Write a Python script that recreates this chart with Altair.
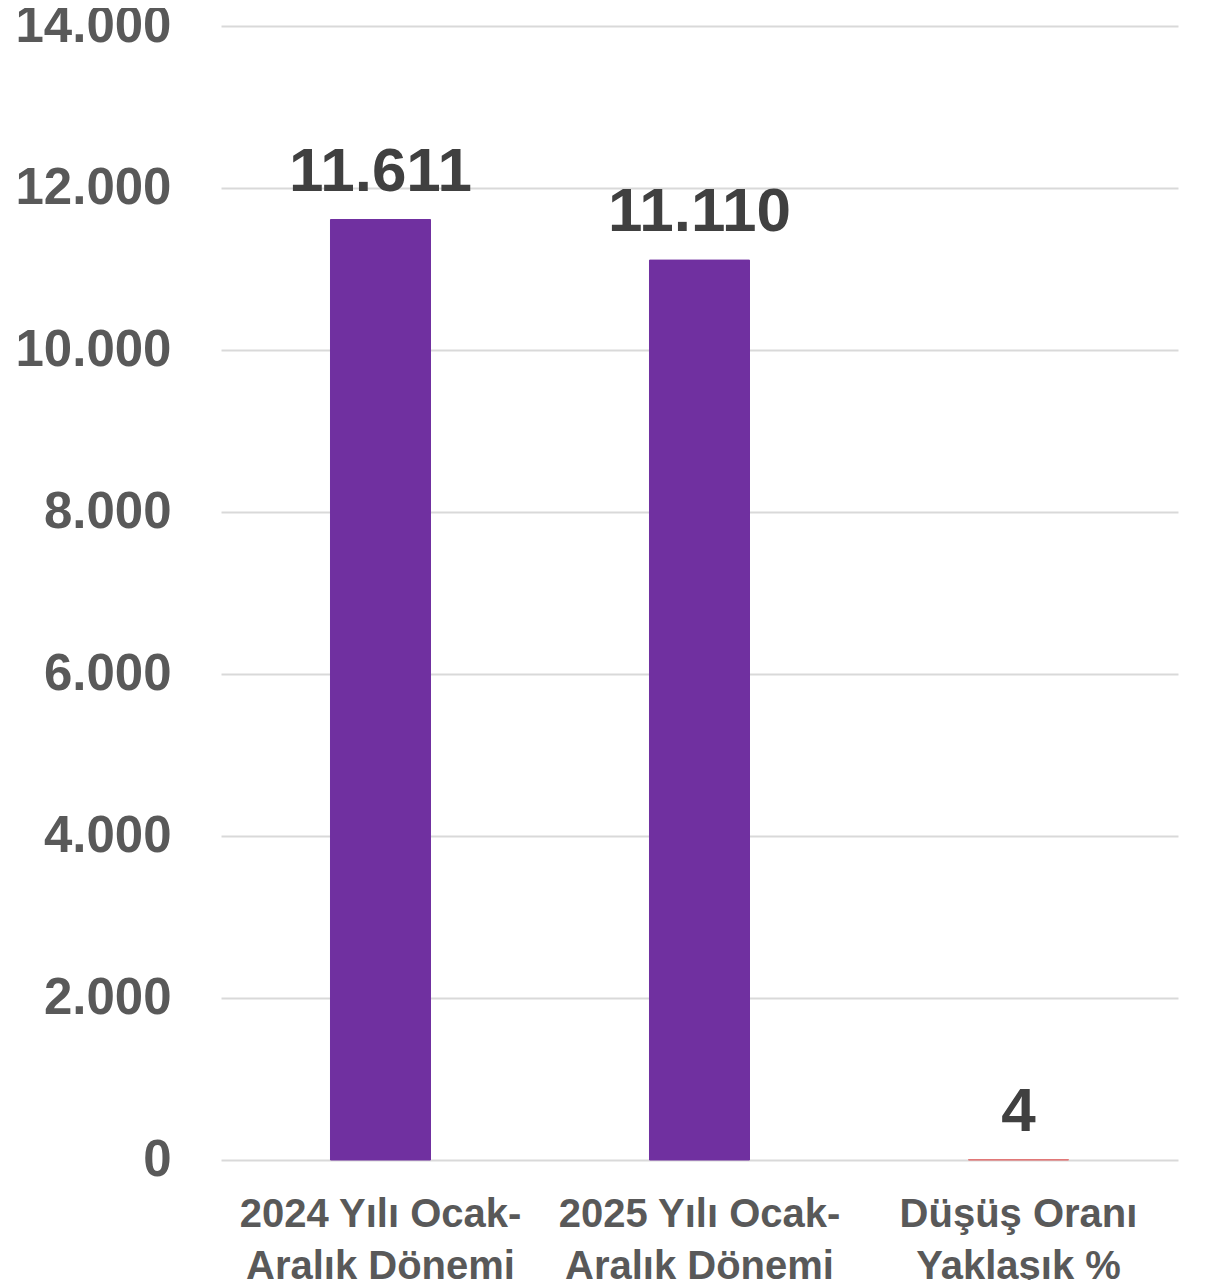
import altair as alt
import pandas as pd

categories = ["2024 Yılı Ocak-\nAralık Dönemi", "2025 Yılı Ocak-\nAralık Dönemi", "Düşüş Oranı\nYaklaşık %"]
values = [11611, 11110, 4]
colors = ["#7030A0", "#7030A0", "#E07070"]
y_ticks = [0, 2000, 4000, 6000, 8000, 10000, 12000, 14000]

df = pd.DataFrame({"cat": categories, "val": values, "color": colors})

FONT = "Liberation Sans"

x_axis = alt.Axis(
    title=None,
    labelAngle=0,
    ticks=False,
    domain=False,
    grid=False,
    labelFont=FONT,
    labelFontSize=40,
    labelFontWeight="bold",
    labelColor="#595959",
    labelPadding=34,
    labelLineHeight=52,
    labelBaseline="top",
    labelLimit=0,
    labelExpr="split(datum.label, '\\n')",
)
x_scale = alt.Scale(paddingInner=0.6865, paddingOuter=0.34325)

y_axis = alt.Axis(
    title=None,
    values=y_ticks,
    ticks=False,
    domain=False,
    grid=True,
    gridColor="#D9D9D9",
    gridWidth=2,
    labelFont=FONT,
    labelFontSize=51,
    labelFontWeight="bold",
    labelColor="#595959",
    labelPadding=50,
    labelExpr="replace(format(datum.value, ','), ',', '.')",
)
y_scale = alt.Scale(domain=[0, 14000], nice=False)

base = alt.Chart(df)

bars = base.mark_bar(strokeWidth=1).encode(
    x=alt.X("cat:N", sort=categories, scale=x_scale, axis=x_axis),
    y=alt.Y("val:Q", scale=y_scale, axis=y_axis),
    color=alt.Color("color:N", scale=None, legend=None),
    stroke=alt.Stroke("color:N", scale=None, legend=None),
)

labels = base.mark_text(
    font=FONT,
    fontSize=62,
    fontWeight="bold",
    color="#404040",
    baseline="alphabetic",
    dy=-29,
).transform_calculate(
    txt="replace(format(datum.val, ','), ',', '.')"
).encode(
    x=alt.X("cat:N", sort=categories, scale=x_scale, axis=x_axis),
    y=alt.Y("val:Q", scale=y_scale, axis=y_axis),
    text="txt:N",
)

chart = (
    alt.layer(bars, labels)
    .properties(
        width=957,
        height=1134,
        padding={"left": 213, "top": 18, "right": 19, "bottom": 120},
        autosize=alt.AutoSizeParams(type="none"),
    )
    .configure(background="white")
    .configure_view(stroke="transparent", strokeWidth=0)
)

chart.save("out.html", embed_options={"renderer": "svg", "actions": False})
